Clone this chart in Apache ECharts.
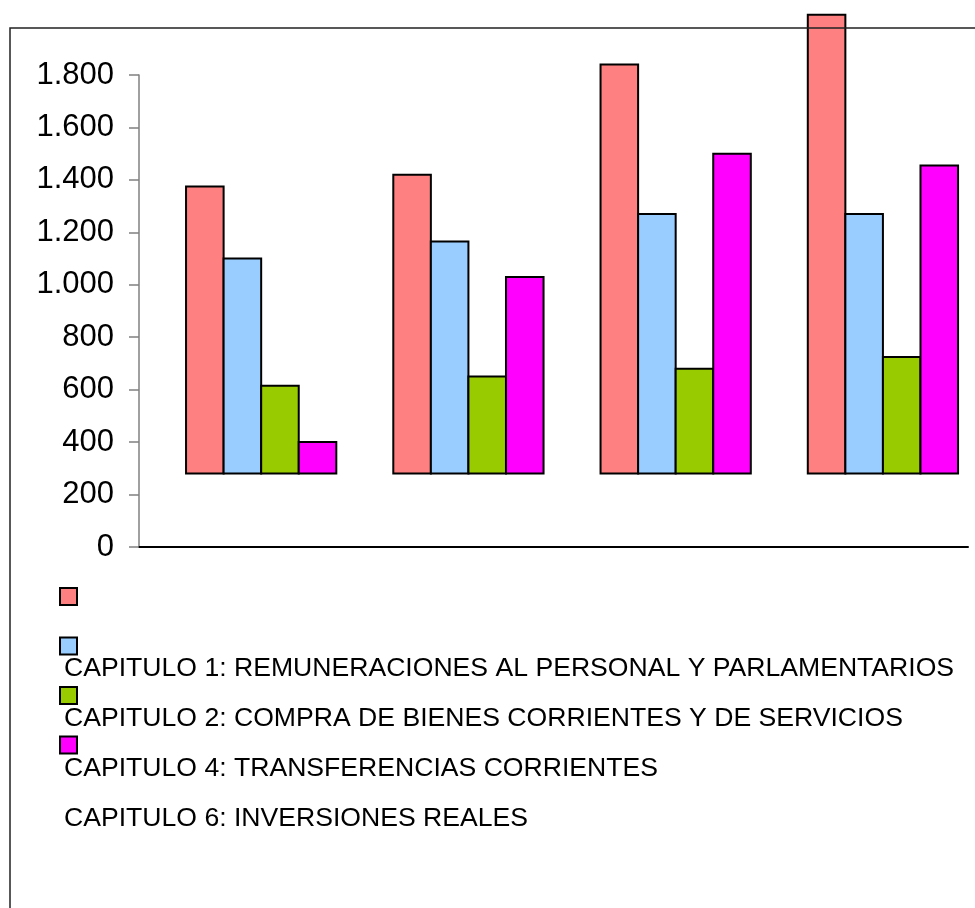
<!DOCTYPE html>
<html>
<head>
<meta charset="utf-8">
<title>Capitulos</title>
<script src="https://cdn.jsdelivr.net/npm/echarts@6/dist/echarts.min.js"></script>
<style>
  html, body { margin: 0; padding: 0; background: #fff; }
  #main { width: 975px; height: 908px; }
</style>
</head>
<body>
<div id="main"></div>
<script>
// datos
const categorias = ['1', '2', '3', '4']
const nombres = [
  'CAPITULO 1: REMUNERACIONES AL PERSONAL Y PARLAMENTARIOS',
  'CAPITULO 2: COMPRA DE BIENES CORRIENTES Y DE SERVICIOS',
  'CAPITULO 4: TRANSFERENCIAS CORRIENTES',
  'CAPITULO 6: INVERSIONES REALES'
]
const cap1 = [1375, 1420, 1840, 2030]
const cap2 = [1100, 1165, 1270, 1270]
const cap4 = [615, 650, 680, 725]
const cap6 = [400, 1030, 1500, 1455]
const baseBarras = 280 // las barras arrancan aqui, no en 0
const ticksY = [0, 200, 400, 600, 800, 1000, 1200, 1400, 1600, 1800]
const colores = ['#FF8080', '#99CCFF', '#99CC00', '#FF00FF']

const fuente = 'Liberation Sans, Arial, sans-serif'
// el grupo de barras no va centrado en su banda (como en el original)
const huecoIzq = 0.227
const anchoGrupo = 0.725

function miles(v) {
  if (v < 1000) return String(v)
  const r = v % 1000
  return Math.floor(v / 1000) + '.' + String(r).padStart(3, '0')
}

// barra flotante: de baseBarras hasta el valor, usando las escalas del grafico
function dibujarBarra(i) {
  return function (params, api) {
    const cat = api.value(0)
    const arriba = api.coord([cat, api.value(1)])
    const abajo = api.coord([cat, baseBarras])
    const banda = api.size([1, 0])[0]
    const ancho = banda * anchoGrupo / 4
    return {
      type: 'rect',
      shape: {
        x: arriba[0] - banda / 2 + banda * huecoIzq + i * ancho,
        y: arriba[1],
        width: ancho,
        height: abajo[1] - arriba[1]
      },
      style: { fill: colores[i], stroke: '#000', lineWidth: 2 }
    }
  }
}

const series = [cap1, cap2, cap4, cap6].map((vals, i) => ({
  name: nombres[i],
  type: 'custom',
  clip: false,
  renderItem: dibujarBarra(i),
  encode: { x: 0, y: 1 },
  itemStyle: { color: colores[i] },
  data: vals.map((v, j) => [j, v])
}))

const chart = echarts.init(document.getElementById('main'))
chart.setOption({
  animation: false,
  textStyle: { fontFamily: fuente },
  grid: { left: 139, right: 7, top: 75, bottom: 361 },
  xAxis: {
    type: 'category', data: categorias,
    axisLine: { lineStyle: { color: '#000', width: 2 } },
    axisTick: { show: false }, axisLabel: { show: false }
  },
  yAxis: {
    type: 'value', min: ticksY[0], max: ticksY[ticksY.length - 1],
    interval: ticksY[1] - ticksY[0],
    axisLine: { show: true, lineStyle: { color: '#808080', width: 1.5 } },
    axisTick: { show: true, length: 10, lineStyle: { color: '#808080', width: 1.5 } },
    splitLine: { show: false },
    axisLabel: { margin: 25, fontSize: 31, color: '#000', fontFamily: fuente, formatter: miles }
  },
  legend: [
    {
      // solo los cuadraditos
      orient: 'vertical', left: 59, top: 587, padding: 0,
      itemWidth: 17, itemHeight: 17, itemGap: 30.5,
      icon: 'rect',
      data: nombres.map((n, i) => ({
        name: n,
        itemStyle: { color: colores[i], borderColor: '#000', borderWidth: 2 }
      })),
      formatter: () => '',
      textStyle: { fontSize: 10 },
      selectedMode: false
    },
    {
      // solo los textos, desplazados una fila
      orient: 'vertical', left: 59, top: 654, padding: 0,
      itemWidth: 0, itemHeight: 0, itemGap: 20,
      icon: 'none',
      data: nombres,
      textStyle: { fontSize: 26.6, color: '#000', fontFamily: fuente, lineHeight: 30 },
      selectedMode: false
    }
  ],
  graphic: [
    {
      type: 'rect', z: 100, silent: true,
      shape: { x: 10, y: 28, width: 1200, height: 1200 },
      style: { fill: 'none', stroke: '#222', lineWidth: 1.5 }
    }
  ],
  series: series
})
</script>
</body>
</html>
